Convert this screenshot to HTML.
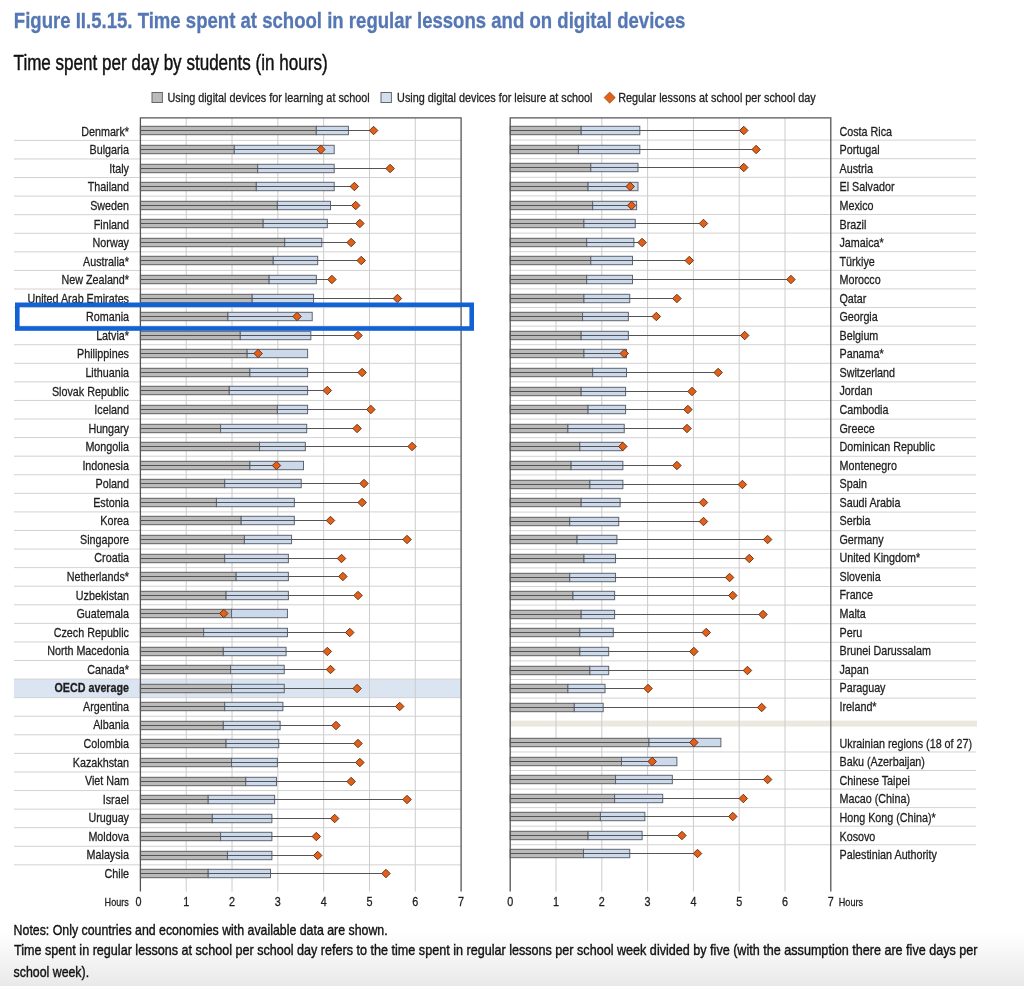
<!DOCTYPE html>
<html><head><meta charset="utf-8"><title>Figure II.5.15. Time spent at school in regular lessons and on digital devices</title>
<style>html,body{margin:0;padding:0;background:#fff;width:1024px;height:986px;overflow:hidden}</style>
</head><body>
<svg width="1024" height="986" viewBox="0 0 1024 986" style="display:block;will-change:transform;font-family:'Liberation Sans',Arial,sans-serif">
<rect width="1024" height="986" fill="#fff"/>
<defs><linearGradient id="bg" x1="0" y1="0" x2="0" y2="1"><stop offset="0" stop-color="#fff"/><stop offset="1" stop-color="#e9e9e9"/></linearGradient></defs>
<rect x="0" y="932" width="1024" height="54" fill="url(#bg)"/>
<text x="13.80" y="28.10" font-size="22.6" font-weight="bold" textLength="671.50" lengthAdjust="spacingAndGlyphs" fill="#5577b3" stroke="#5577b3" stroke-width="0.3">Figure II.5.15. Time spent at school in regular lessons and on digital devices</text>
<text x="13.60" y="70.20" font-size="21.4" textLength="314.00" lengthAdjust="spacingAndGlyphs" fill="#111" stroke="#111" stroke-width="0.45">Time spent per day by students (in hours)</text>
<rect x="152" y="92.5" width="10.4" height="10" fill="#bababa" stroke="#666" stroke-width="1"/>
<text x="167.50" y="102.30" font-size="13.0" textLength="202.20" lengthAdjust="spacingAndGlyphs" fill="#222" stroke="#222" stroke-width="0.3">Using digital devices for learning at school</text>
<rect x="381" y="92.5" width="10.4" height="10" fill="#d3deee" stroke="#666" stroke-width="1"/>
<text x="397.10" y="102.30" font-size="13.0" textLength="195.40" lengthAdjust="spacingAndGlyphs" fill="#222" stroke="#222" stroke-width="0.3">Using digital devices for leisure at school</text>
<polygon points="604.1,97.6 609.7,92.0 615.3000000000001,97.6 609.7,103.19999999999999" fill="#e2611b" stroke="#8a3a10" stroke-width="0.6"/>
<text x="618.20" y="102.30" font-size="13.0" textLength="197.60" lengthAdjust="spacingAndGlyphs" fill="#222" stroke="#222" stroke-width="0.3">Regular lessons at school per school day</text>
<rect x="14" y="679.09" width="447.10" height="18.58" fill="#dbe5f1"/>
<line x1="14" y1="140.39" x2="461.10" y2="140.39" stroke="#d2d2d2" stroke-width="1"/>
<line x1="14" y1="158.96" x2="461.10" y2="158.96" stroke="#d2d2d2" stroke-width="1"/>
<line x1="14" y1="177.54" x2="461.10" y2="177.54" stroke="#d2d2d2" stroke-width="1"/>
<line x1="14" y1="196.12" x2="461.10" y2="196.12" stroke="#d2d2d2" stroke-width="1"/>
<line x1="14" y1="214.69" x2="461.10" y2="214.69" stroke="#d2d2d2" stroke-width="1"/>
<line x1="14" y1="233.27" x2="461.10" y2="233.27" stroke="#d2d2d2" stroke-width="1"/>
<line x1="14" y1="251.84" x2="461.10" y2="251.84" stroke="#d2d2d2" stroke-width="1"/>
<line x1="14" y1="270.42" x2="461.10" y2="270.42" stroke="#d2d2d2" stroke-width="1"/>
<line x1="14" y1="289.00" x2="461.10" y2="289.00" stroke="#d2d2d2" stroke-width="1"/>
<line x1="14" y1="307.57" x2="461.10" y2="307.57" stroke="#d2d2d2" stroke-width="1"/>
<line x1="14" y1="326.15" x2="461.10" y2="326.15" stroke="#d2d2d2" stroke-width="1"/>
<line x1="14" y1="344.72" x2="461.10" y2="344.72" stroke="#d2d2d2" stroke-width="1"/>
<line x1="14" y1="363.30" x2="461.10" y2="363.30" stroke="#d2d2d2" stroke-width="1"/>
<line x1="14" y1="381.88" x2="461.10" y2="381.88" stroke="#d2d2d2" stroke-width="1"/>
<line x1="14" y1="400.45" x2="461.10" y2="400.45" stroke="#d2d2d2" stroke-width="1"/>
<line x1="14" y1="419.03" x2="461.10" y2="419.03" stroke="#d2d2d2" stroke-width="1"/>
<line x1="14" y1="437.60" x2="461.10" y2="437.60" stroke="#d2d2d2" stroke-width="1"/>
<line x1="14" y1="456.18" x2="461.10" y2="456.18" stroke="#d2d2d2" stroke-width="1"/>
<line x1="14" y1="474.76" x2="461.10" y2="474.76" stroke="#d2d2d2" stroke-width="1"/>
<line x1="14" y1="493.33" x2="461.10" y2="493.33" stroke="#d2d2d2" stroke-width="1"/>
<line x1="14" y1="511.91" x2="461.10" y2="511.91" stroke="#d2d2d2" stroke-width="1"/>
<line x1="14" y1="530.48" x2="461.10" y2="530.48" stroke="#d2d2d2" stroke-width="1"/>
<line x1="14" y1="549.06" x2="461.10" y2="549.06" stroke="#d2d2d2" stroke-width="1"/>
<line x1="14" y1="567.64" x2="461.10" y2="567.64" stroke="#d2d2d2" stroke-width="1"/>
<line x1="14" y1="586.21" x2="461.10" y2="586.21" stroke="#d2d2d2" stroke-width="1"/>
<line x1="14" y1="604.79" x2="461.10" y2="604.79" stroke="#d2d2d2" stroke-width="1"/>
<line x1="14" y1="623.36" x2="461.10" y2="623.36" stroke="#d2d2d2" stroke-width="1"/>
<line x1="14" y1="641.94" x2="461.10" y2="641.94" stroke="#d2d2d2" stroke-width="1"/>
<line x1="14" y1="660.52" x2="461.10" y2="660.52" stroke="#d2d2d2" stroke-width="1"/>
<line x1="14" y1="679.09" x2="461.10" y2="679.09" stroke="#d2d2d2" stroke-width="1"/>
<line x1="14" y1="697.67" x2="461.10" y2="697.67" stroke="#d2d2d2" stroke-width="1"/>
<line x1="14" y1="716.24" x2="461.10" y2="716.24" stroke="#d2d2d2" stroke-width="1"/>
<line x1="14" y1="734.82" x2="461.10" y2="734.82" stroke="#d2d2d2" stroke-width="1"/>
<line x1="14" y1="753.40" x2="461.10" y2="753.40" stroke="#d2d2d2" stroke-width="1"/>
<line x1="14" y1="771.97" x2="461.10" y2="771.97" stroke="#d2d2d2" stroke-width="1"/>
<line x1="14" y1="790.55" x2="461.10" y2="790.55" stroke="#d2d2d2" stroke-width="1"/>
<line x1="14" y1="809.12" x2="461.10" y2="809.12" stroke="#d2d2d2" stroke-width="1"/>
<line x1="14" y1="827.70" x2="461.10" y2="827.70" stroke="#d2d2d2" stroke-width="1"/>
<line x1="14" y1="846.28" x2="461.10" y2="846.28" stroke="#d2d2d2" stroke-width="1"/>
<line x1="14" y1="864.85" x2="461.10" y2="864.85" stroke="#d2d2d2" stroke-width="1"/>
<line x1="186.21" y1="117.90" x2="186.21" y2="891.60" stroke="#cccccc" stroke-width="1"/>
<line x1="232.03" y1="117.90" x2="232.03" y2="891.60" stroke="#cccccc" stroke-width="1"/>
<line x1="277.84" y1="117.90" x2="277.84" y2="891.60" stroke="#cccccc" stroke-width="1"/>
<line x1="323.66" y1="117.90" x2="323.66" y2="891.60" stroke="#cccccc" stroke-width="1"/>
<line x1="369.47" y1="117.90" x2="369.47" y2="891.60" stroke="#cccccc" stroke-width="1"/>
<line x1="415.29" y1="117.90" x2="415.29" y2="891.60" stroke="#cccccc" stroke-width="1"/>
<rect x="140.40" y="126.30" width="175.93" height="8.4" fill="#bababa" stroke="#5e5e5e" stroke-width="1"/>
<rect x="316.33" y="126.30" width="32.07" height="8.4" fill="#ccd9eb" stroke="#5e6470" stroke-width="1"/>
<line x1="140.40" y1="130.50" x2="373.59" y2="130.50" stroke="#545454" stroke-width="1"/>
<polygon points="369.34,130.50 373.59,126.25 377.84,130.50 373.59,134.75" fill="#e2601a" stroke="#5e2a0c" stroke-width="0.9"/>
<rect x="140.40" y="145.30" width="93.92" height="8.4" fill="#bababa" stroke="#5e5e5e" stroke-width="1"/>
<rect x="234.32" y="145.30" width="99.88" height="8.4" fill="#ccd9eb" stroke="#5e6470" stroke-width="1"/>
<line x1="140.40" y1="149.50" x2="320.91" y2="149.50" stroke="#545454" stroke-width="1"/>
<polygon points="316.66,149.50 320.91,145.25 325.16,149.50 320.91,153.75" fill="#e2601a" stroke="#5e2a0c" stroke-width="0.9"/>
<rect x="140.40" y="164.30" width="117.28" height="8.4" fill="#bababa" stroke="#5e5e5e" stroke-width="1"/>
<rect x="257.68" y="164.30" width="76.51" height="8.4" fill="#ccd9eb" stroke="#5e6470" stroke-width="1"/>
<line x1="140.40" y1="168.50" x2="390.09" y2="168.50" stroke="#545454" stroke-width="1"/>
<polygon points="385.84,168.50 390.09,164.25 394.34,168.50 390.09,172.75" fill="#e2601a" stroke="#5e2a0c" stroke-width="0.9"/>
<rect x="140.40" y="182.30" width="115.91" height="8.4" fill="#bababa" stroke="#5e5e5e" stroke-width="1"/>
<rect x="256.31" y="182.30" width="77.88" height="8.4" fill="#ccd9eb" stroke="#5e6470" stroke-width="1"/>
<line x1="140.40" y1="186.50" x2="354.35" y2="186.50" stroke="#545454" stroke-width="1"/>
<polygon points="350.10,186.50 354.35,182.25 358.60,186.50 354.35,190.75" fill="#e2601a" stroke="#5e2a0c" stroke-width="0.9"/>
<rect x="140.40" y="201.30" width="136.98" height="8.4" fill="#bababa" stroke="#5e5e5e" stroke-width="1"/>
<rect x="277.38" y="201.30" width="53.14" height="8.4" fill="#ccd9eb" stroke="#5e6470" stroke-width="1"/>
<line x1="140.40" y1="205.50" x2="355.73" y2="205.50" stroke="#545454" stroke-width="1"/>
<polygon points="351.48,205.50 355.73,201.25 359.98,205.50 355.73,209.75" fill="#e2601a" stroke="#5e2a0c" stroke-width="0.9"/>
<rect x="140.40" y="219.30" width="122.78" height="8.4" fill="#bababa" stroke="#5e5e5e" stroke-width="1"/>
<rect x="263.18" y="219.30" width="64.14" height="8.4" fill="#ccd9eb" stroke="#5e6470" stroke-width="1"/>
<line x1="140.40" y1="223.50" x2="359.85" y2="223.50" stroke="#545454" stroke-width="1"/>
<polygon points="355.60,223.50 359.85,219.25 364.10,223.50 359.85,227.75" fill="#e2601a" stroke="#5e2a0c" stroke-width="0.9"/>
<rect x="140.40" y="238.30" width="144.32" height="8.4" fill="#bababa" stroke="#5e5e5e" stroke-width="1"/>
<rect x="284.72" y="238.30" width="37.11" height="8.4" fill="#ccd9eb" stroke="#5e6470" stroke-width="1"/>
<line x1="140.40" y1="242.50" x2="351.15" y2="242.50" stroke="#545454" stroke-width="1"/>
<polygon points="346.90,242.50 351.15,238.25 355.40,242.50 351.15,246.75" fill="#e2601a" stroke="#5e2a0c" stroke-width="0.9"/>
<rect x="140.40" y="256.30" width="132.86" height="8.4" fill="#bababa" stroke="#5e5e5e" stroke-width="1"/>
<rect x="273.26" y="256.30" width="44.44" height="8.4" fill="#ccd9eb" stroke="#5e6470" stroke-width="1"/>
<line x1="140.40" y1="260.50" x2="361.22" y2="260.50" stroke="#545454" stroke-width="1"/>
<polygon points="356.97,260.50 361.22,256.25 365.47,260.50 361.22,264.75" fill="#e2601a" stroke="#5e2a0c" stroke-width="0.9"/>
<rect x="140.40" y="275.30" width="128.74" height="8.4" fill="#bababa" stroke="#5e5e5e" stroke-width="1"/>
<rect x="269.14" y="275.30" width="47.19" height="8.4" fill="#ccd9eb" stroke="#5e6470" stroke-width="1"/>
<line x1="140.40" y1="279.50" x2="331.90" y2="279.50" stroke="#545454" stroke-width="1"/>
<polygon points="327.65,279.50 331.90,275.25 336.15,279.50 331.90,283.75" fill="#e2601a" stroke="#5e2a0c" stroke-width="0.9"/>
<rect x="140.40" y="294.30" width="111.79" height="8.4" fill="#bababa" stroke="#5e5e5e" stroke-width="1"/>
<rect x="252.19" y="294.30" width="61.39" height="8.4" fill="#ccd9eb" stroke="#5e6470" stroke-width="1"/>
<line x1="140.40" y1="298.50" x2="397.42" y2="298.50" stroke="#545454" stroke-width="1"/>
<polygon points="393.17,298.50 397.42,294.25 401.67,298.50 397.42,302.75" fill="#e2601a" stroke="#5e2a0c" stroke-width="0.9"/>
<rect x="140.40" y="312.30" width="87.51" height="8.4" fill="#bababa" stroke="#5e5e5e" stroke-width="1"/>
<rect x="227.91" y="312.30" width="84.30" height="8.4" fill="#ccd9eb" stroke="#5e6470" stroke-width="1"/>
<line x1="140.40" y1="316.50" x2="297.08" y2="316.50" stroke="#545454" stroke-width="1"/>
<polygon points="292.83,316.50 297.08,312.25 301.33,316.50 297.08,320.75" fill="#e2601a" stroke="#5e2a0c" stroke-width="0.9"/>
<rect x="140.40" y="331.30" width="99.88" height="8.4" fill="#bababa" stroke="#5e5e5e" stroke-width="1"/>
<rect x="240.28" y="331.30" width="70.55" height="8.4" fill="#ccd9eb" stroke="#5e6470" stroke-width="1"/>
<line x1="140.40" y1="335.50" x2="358.02" y2="335.50" stroke="#545454" stroke-width="1"/>
<polygon points="353.77,335.50 358.02,331.25 362.27,335.50 358.02,339.75" fill="#e2601a" stroke="#5e2a0c" stroke-width="0.9"/>
<rect x="140.40" y="349.30" width="106.75" height="8.4" fill="#bababa" stroke="#5e5e5e" stroke-width="1"/>
<rect x="247.15" y="349.30" width="60.47" height="8.4" fill="#ccd9eb" stroke="#5e6470" stroke-width="1"/>
<line x1="140.40" y1="353.50" x2="258.14" y2="353.50" stroke="#545454" stroke-width="1"/>
<polygon points="253.89,353.50 258.14,349.25 262.39,353.50 258.14,357.75" fill="#e2601a" stroke="#5e2a0c" stroke-width="0.9"/>
<rect x="140.40" y="368.30" width="109.50" height="8.4" fill="#bababa" stroke="#5e5e5e" stroke-width="1"/>
<rect x="249.90" y="368.30" width="57.73" height="8.4" fill="#ccd9eb" stroke="#5e6470" stroke-width="1"/>
<line x1="140.40" y1="372.50" x2="362.14" y2="372.50" stroke="#545454" stroke-width="1"/>
<polygon points="357.89,372.50 362.14,368.25 366.39,372.50 362.14,376.75" fill="#e2601a" stroke="#5e2a0c" stroke-width="0.9"/>
<rect x="140.40" y="386.30" width="88.88" height="8.4" fill="#bababa" stroke="#5e5e5e" stroke-width="1"/>
<rect x="229.28" y="386.30" width="78.34" height="8.4" fill="#ccd9eb" stroke="#5e6470" stroke-width="1"/>
<line x1="140.40" y1="390.50" x2="327.32" y2="390.50" stroke="#545454" stroke-width="1"/>
<polygon points="323.07,390.50 327.32,386.25 331.57,390.50 327.32,394.75" fill="#e2601a" stroke="#5e2a0c" stroke-width="0.9"/>
<rect x="140.40" y="405.30" width="136.98" height="8.4" fill="#bababa" stroke="#5e5e5e" stroke-width="1"/>
<rect x="277.38" y="405.30" width="30.24" height="8.4" fill="#ccd9eb" stroke="#5e6470" stroke-width="1"/>
<line x1="140.40" y1="409.50" x2="370.85" y2="409.50" stroke="#545454" stroke-width="1"/>
<polygon points="366.60,409.50 370.85,405.25 375.10,409.50 370.85,413.75" fill="#e2601a" stroke="#5e2a0c" stroke-width="0.9"/>
<rect x="140.40" y="424.30" width="80.18" height="8.4" fill="#bababa" stroke="#5e5e5e" stroke-width="1"/>
<rect x="220.58" y="424.30" width="86.13" height="8.4" fill="#ccd9eb" stroke="#5e6470" stroke-width="1"/>
<line x1="140.40" y1="428.50" x2="357.10" y2="428.50" stroke="#545454" stroke-width="1"/>
<polygon points="352.85,428.50 357.10,424.25 361.35,428.50 357.10,432.75" fill="#e2601a" stroke="#5e2a0c" stroke-width="0.9"/>
<rect x="140.40" y="442.30" width="119.12" height="8.4" fill="#bababa" stroke="#5e5e5e" stroke-width="1"/>
<rect x="259.52" y="442.30" width="45.81" height="8.4" fill="#ccd9eb" stroke="#5e6470" stroke-width="1"/>
<line x1="140.40" y1="446.50" x2="412.08" y2="446.50" stroke="#545454" stroke-width="1"/>
<polygon points="407.83,446.50 412.08,442.25 416.33,446.50 412.08,450.75" fill="#e2601a" stroke="#5e2a0c" stroke-width="0.9"/>
<rect x="140.40" y="461.30" width="109.50" height="8.4" fill="#bababa" stroke="#5e5e5e" stroke-width="1"/>
<rect x="249.90" y="461.30" width="53.60" height="8.4" fill="#ccd9eb" stroke="#5e6470" stroke-width="1"/>
<line x1="140.40" y1="465.50" x2="276.47" y2="465.50" stroke="#545454" stroke-width="1"/>
<polygon points="272.22,465.50 276.47,461.25 280.72,465.50 276.47,469.75" fill="#e2601a" stroke="#5e2a0c" stroke-width="0.9"/>
<rect x="140.40" y="479.30" width="84.30" height="8.4" fill="#bababa" stroke="#5e5e5e" stroke-width="1"/>
<rect x="224.70" y="479.30" width="76.51" height="8.4" fill="#ccd9eb" stroke="#5e6470" stroke-width="1"/>
<line x1="140.40" y1="483.50" x2="363.97" y2="483.50" stroke="#545454" stroke-width="1"/>
<polygon points="359.72,483.50 363.97,479.25 368.22,483.50 363.97,487.75" fill="#e2601a" stroke="#5e2a0c" stroke-width="0.9"/>
<rect x="140.40" y="498.30" width="76.05" height="8.4" fill="#bababa" stroke="#5e5e5e" stroke-width="1"/>
<rect x="216.45" y="498.30" width="77.88" height="8.4" fill="#ccd9eb" stroke="#5e6470" stroke-width="1"/>
<line x1="140.40" y1="502.50" x2="362.14" y2="502.50" stroke="#545454" stroke-width="1"/>
<polygon points="357.89,502.50 362.14,498.25 366.39,502.50 362.14,506.75" fill="#e2601a" stroke="#5e2a0c" stroke-width="0.9"/>
<rect x="140.40" y="516.30" width="100.79" height="8.4" fill="#bababa" stroke="#5e5e5e" stroke-width="1"/>
<rect x="241.19" y="516.30" width="53.14" height="8.4" fill="#ccd9eb" stroke="#5e6470" stroke-width="1"/>
<line x1="140.40" y1="520.50" x2="330.53" y2="520.50" stroke="#545454" stroke-width="1"/>
<polygon points="326.28,520.50 330.53,516.25 334.78,520.50 330.53,524.75" fill="#e2601a" stroke="#5e2a0c" stroke-width="0.9"/>
<rect x="140.40" y="535.30" width="104.00" height="8.4" fill="#bababa" stroke="#5e5e5e" stroke-width="1"/>
<rect x="244.40" y="535.30" width="47.19" height="8.4" fill="#ccd9eb" stroke="#5e6470" stroke-width="1"/>
<line x1="140.40" y1="539.50" x2="407.04" y2="539.50" stroke="#545454" stroke-width="1"/>
<polygon points="402.79,539.50 407.04,535.25 411.29,539.50 407.04,543.75" fill="#e2601a" stroke="#5e2a0c" stroke-width="0.9"/>
<rect x="140.40" y="554.30" width="84.30" height="8.4" fill="#bababa" stroke="#5e5e5e" stroke-width="1"/>
<rect x="224.70" y="554.30" width="63.68" height="8.4" fill="#ccd9eb" stroke="#5e6470" stroke-width="1"/>
<line x1="140.40" y1="558.50" x2="341.52" y2="558.50" stroke="#545454" stroke-width="1"/>
<polygon points="337.27,558.50 341.52,554.25 345.77,558.50 341.52,562.75" fill="#e2601a" stroke="#5e2a0c" stroke-width="0.9"/>
<rect x="140.40" y="572.30" width="95.75" height="8.4" fill="#bababa" stroke="#5e5e5e" stroke-width="1"/>
<rect x="236.15" y="572.30" width="52.23" height="8.4" fill="#ccd9eb" stroke="#5e6470" stroke-width="1"/>
<line x1="140.40" y1="576.50" x2="342.90" y2="576.50" stroke="#545454" stroke-width="1"/>
<polygon points="338.65,576.50 342.90,572.25 347.15,576.50 342.90,580.75" fill="#e2601a" stroke="#5e2a0c" stroke-width="0.9"/>
<rect x="140.40" y="591.30" width="85.67" height="8.4" fill="#bababa" stroke="#5e5e5e" stroke-width="1"/>
<rect x="226.07" y="591.30" width="62.31" height="8.4" fill="#ccd9eb" stroke="#5e6470" stroke-width="1"/>
<line x1="140.40" y1="595.50" x2="358.02" y2="595.50" stroke="#545454" stroke-width="1"/>
<polygon points="353.77,595.50 358.02,591.25 362.27,595.50 358.02,599.75" fill="#e2601a" stroke="#5e2a0c" stroke-width="0.9"/>
<rect x="140.40" y="609.30" width="91.17" height="8.4" fill="#bababa" stroke="#5e5e5e" stroke-width="1"/>
<rect x="231.57" y="609.30" width="55.89" height="8.4" fill="#ccd9eb" stroke="#5e6470" stroke-width="1"/>
<line x1="140.40" y1="613.50" x2="223.78" y2="613.50" stroke="#545454" stroke-width="1"/>
<polygon points="219.53,613.50 223.78,609.25 228.03,613.50 223.78,617.75" fill="#e2601a" stroke="#5e2a0c" stroke-width="0.9"/>
<rect x="140.40" y="628.30" width="63.22" height="8.4" fill="#bababa" stroke="#5e5e5e" stroke-width="1"/>
<rect x="203.62" y="628.30" width="83.84" height="8.4" fill="#ccd9eb" stroke="#5e6470" stroke-width="1"/>
<line x1="140.40" y1="632.50" x2="349.77" y2="632.50" stroke="#545454" stroke-width="1"/>
<polygon points="345.52,632.50 349.77,628.25 354.02,632.50 349.77,636.75" fill="#e2601a" stroke="#5e2a0c" stroke-width="0.9"/>
<rect x="140.40" y="647.30" width="82.92" height="8.4" fill="#bababa" stroke="#5e5e5e" stroke-width="1"/>
<rect x="223.32" y="647.30" width="62.77" height="8.4" fill="#ccd9eb" stroke="#5e6470" stroke-width="1"/>
<line x1="140.40" y1="651.50" x2="327.32" y2="651.50" stroke="#545454" stroke-width="1"/>
<polygon points="323.07,651.50 327.32,647.25 331.57,651.50 327.32,655.75" fill="#e2601a" stroke="#5e2a0c" stroke-width="0.9"/>
<rect x="140.40" y="665.30" width="90.25" height="8.4" fill="#bababa" stroke="#5e5e5e" stroke-width="1"/>
<rect x="230.65" y="665.30" width="53.60" height="8.4" fill="#ccd9eb" stroke="#5e6470" stroke-width="1"/>
<line x1="140.40" y1="669.50" x2="330.53" y2="669.50" stroke="#545454" stroke-width="1"/>
<polygon points="326.28,669.50 330.53,665.25 334.78,669.50 330.53,673.75" fill="#e2601a" stroke="#5e2a0c" stroke-width="0.9"/>
<rect x="140.40" y="684.30" width="91.17" height="8.4" fill="#bababa" stroke="#5e5e5e" stroke-width="1"/>
<rect x="231.57" y="684.30" width="52.69" height="8.4" fill="#ccd9eb" stroke="#5e6470" stroke-width="1"/>
<line x1="140.40" y1="688.50" x2="357.10" y2="688.50" stroke="#545454" stroke-width="1"/>
<polygon points="352.85,688.50 357.10,684.25 361.35,688.50 357.10,692.75" fill="#e2601a" stroke="#5e2a0c" stroke-width="0.9"/>
<rect x="140.40" y="702.30" width="84.30" height="8.4" fill="#bababa" stroke="#5e5e5e" stroke-width="1"/>
<rect x="224.70" y="702.30" width="58.18" height="8.4" fill="#ccd9eb" stroke="#5e6470" stroke-width="1"/>
<line x1="140.40" y1="706.50" x2="399.71" y2="706.50" stroke="#545454" stroke-width="1"/>
<polygon points="395.46,706.50 399.71,702.25 403.96,706.50 399.71,710.75" fill="#e2601a" stroke="#5e2a0c" stroke-width="0.9"/>
<rect x="140.40" y="721.30" width="82.92" height="8.4" fill="#bababa" stroke="#5e5e5e" stroke-width="1"/>
<rect x="223.32" y="721.30" width="56.81" height="8.4" fill="#ccd9eb" stroke="#5e6470" stroke-width="1"/>
<line x1="140.40" y1="725.50" x2="336.03" y2="725.50" stroke="#545454" stroke-width="1"/>
<polygon points="331.78,725.50 336.03,721.25 340.28,725.50 336.03,729.75" fill="#e2601a" stroke="#5e2a0c" stroke-width="0.9"/>
<rect x="140.40" y="739.30" width="85.67" height="8.4" fill="#bababa" stroke="#5e5e5e" stroke-width="1"/>
<rect x="226.07" y="739.30" width="52.69" height="8.4" fill="#ccd9eb" stroke="#5e6470" stroke-width="1"/>
<line x1="140.40" y1="743.50" x2="358.02" y2="743.50" stroke="#545454" stroke-width="1"/>
<polygon points="353.77,743.50 358.02,739.25 362.27,743.50 358.02,747.75" fill="#e2601a" stroke="#5e2a0c" stroke-width="0.9"/>
<rect x="140.40" y="758.30" width="91.17" height="8.4" fill="#bababa" stroke="#5e5e5e" stroke-width="1"/>
<rect x="231.57" y="758.30" width="45.81" height="8.4" fill="#ccd9eb" stroke="#5e6470" stroke-width="1"/>
<line x1="140.40" y1="762.50" x2="359.85" y2="762.50" stroke="#545454" stroke-width="1"/>
<polygon points="355.60,762.50 359.85,758.25 364.10,762.50 359.85,766.75" fill="#e2601a" stroke="#5e2a0c" stroke-width="0.9"/>
<rect x="140.40" y="777.30" width="105.37" height="8.4" fill="#bababa" stroke="#5e5e5e" stroke-width="1"/>
<rect x="245.77" y="777.30" width="30.70" height="8.4" fill="#ccd9eb" stroke="#5e6470" stroke-width="1"/>
<line x1="140.40" y1="781.50" x2="351.15" y2="781.50" stroke="#545454" stroke-width="1"/>
<polygon points="346.90,781.50 351.15,777.25 355.40,781.50 351.15,785.75" fill="#e2601a" stroke="#5e2a0c" stroke-width="0.9"/>
<rect x="140.40" y="795.30" width="67.81" height="8.4" fill="#bababa" stroke="#5e5e5e" stroke-width="1"/>
<rect x="208.21" y="795.30" width="66.43" height="8.4" fill="#ccd9eb" stroke="#5e6470" stroke-width="1"/>
<line x1="140.40" y1="799.50" x2="407.04" y2="799.50" stroke="#545454" stroke-width="1"/>
<polygon points="402.79,799.50 407.04,795.25 411.29,799.50 407.04,803.75" fill="#e2601a" stroke="#5e2a0c" stroke-width="0.9"/>
<rect x="140.40" y="814.30" width="71.93" height="8.4" fill="#bababa" stroke="#5e5e5e" stroke-width="1"/>
<rect x="212.33" y="814.30" width="59.56" height="8.4" fill="#ccd9eb" stroke="#5e6470" stroke-width="1"/>
<line x1="140.40" y1="818.50" x2="334.65" y2="818.50" stroke="#545454" stroke-width="1"/>
<polygon points="330.40,818.50 334.65,814.25 338.90,818.50 334.65,822.75" fill="#e2601a" stroke="#5e2a0c" stroke-width="0.9"/>
<rect x="140.40" y="832.30" width="80.18" height="8.4" fill="#bababa" stroke="#5e5e5e" stroke-width="1"/>
<rect x="220.58" y="832.30" width="51.31" height="8.4" fill="#ccd9eb" stroke="#5e6470" stroke-width="1"/>
<line x1="140.40" y1="836.50" x2="316.33" y2="836.50" stroke="#545454" stroke-width="1"/>
<polygon points="312.08,836.50 316.33,832.25 320.58,836.50 316.33,840.75" fill="#e2601a" stroke="#5e2a0c" stroke-width="0.9"/>
<rect x="140.40" y="851.30" width="87.05" height="8.4" fill="#bababa" stroke="#5e5e5e" stroke-width="1"/>
<rect x="227.45" y="851.30" width="44.44" height="8.4" fill="#ccd9eb" stroke="#5e6470" stroke-width="1"/>
<line x1="140.40" y1="855.50" x2="317.70" y2="855.50" stroke="#545454" stroke-width="1"/>
<polygon points="313.45,855.50 317.70,851.25 321.95,855.50 317.70,859.75" fill="#e2601a" stroke="#5e2a0c" stroke-width="0.9"/>
<rect x="140.40" y="869.30" width="67.81" height="8.4" fill="#bababa" stroke="#5e5e5e" stroke-width="1"/>
<rect x="208.21" y="869.30" width="62.31" height="8.4" fill="#ccd9eb" stroke="#5e6470" stroke-width="1"/>
<line x1="140.40" y1="873.50" x2="385.96" y2="873.50" stroke="#545454" stroke-width="1"/>
<polygon points="381.71,873.50 385.96,869.25 390.21,873.50 385.96,877.75" fill="#e2601a" stroke="#5e2a0c" stroke-width="0.9"/>
<polyline points="140.40,891.60 140.40,117.90 461.10,117.90 461.10,891.60" fill="none" stroke="#555" stroke-width="1.3"/>
<text x="81.22" y="135.80" font-size="13.4" textLength="47.78" lengthAdjust="spacingAndGlyphs" fill="#1e1e1e" stroke="#1e1e1e" stroke-width="0.3">Denmark*</text>
<text x="89.57" y="154.35" font-size="13.4" textLength="39.43" lengthAdjust="spacingAndGlyphs" fill="#1e1e1e" stroke="#1e1e1e" stroke-width="0.3">Bulgaria</text>
<text x="109.29" y="172.90" font-size="13.4" textLength="19.71" lengthAdjust="spacingAndGlyphs" fill="#1e1e1e" stroke="#1e1e1e" stroke-width="0.3">Italy</text>
<text x="87.78" y="191.45" font-size="13.4" textLength="41.22" lengthAdjust="spacingAndGlyphs" fill="#1e1e1e" stroke="#1e1e1e" stroke-width="0.3">Thailand</text>
<text x="90.16" y="210.00" font-size="13.4" textLength="38.84" lengthAdjust="spacingAndGlyphs" fill="#1e1e1e" stroke="#1e1e1e" stroke-width="0.3">Sweden</text>
<text x="93.75" y="228.55" font-size="13.4" textLength="35.25" lengthAdjust="spacingAndGlyphs" fill="#1e1e1e" stroke="#1e1e1e" stroke-width="0.3">Finland</text>
<text x="92.57" y="247.10" font-size="13.4" textLength="36.43" lengthAdjust="spacingAndGlyphs" fill="#1e1e1e" stroke="#1e1e1e" stroke-width="0.3">Norway</text>
<text x="83.01" y="265.65" font-size="13.4" textLength="45.99" lengthAdjust="spacingAndGlyphs" fill="#1e1e1e" stroke="#1e1e1e" stroke-width="0.3">Australia*</text>
<text x="61.50" y="284.20" font-size="13.4" textLength="67.50" lengthAdjust="spacingAndGlyphs" fill="#1e1e1e" stroke="#1e1e1e" stroke-width="0.3">New Zealand*</text>
<text x="27.46" y="302.75" font-size="13.4" textLength="101.54" lengthAdjust="spacingAndGlyphs" fill="#1e1e1e" stroke="#1e1e1e" stroke-width="0.3">United Arab Emirates</text>
<text x="85.99" y="321.30" font-size="13.4" textLength="43.01" lengthAdjust="spacingAndGlyphs" fill="#1e1e1e" stroke="#1e1e1e" stroke-width="0.3">Romania</text>
<text x="96.14" y="339.85" font-size="13.4" textLength="32.86" lengthAdjust="spacingAndGlyphs" fill="#1e1e1e" stroke="#1e1e1e" stroke-width="0.3">Latvia*</text>
<text x="77.02" y="358.40" font-size="13.4" textLength="51.98" lengthAdjust="spacingAndGlyphs" fill="#1e1e1e" stroke="#1e1e1e" stroke-width="0.3">Philippines</text>
<text x="85.38" y="376.95" font-size="13.4" textLength="43.62" lengthAdjust="spacingAndGlyphs" fill="#1e1e1e" stroke="#1e1e1e" stroke-width="0.3">Lithuania</text>
<text x="51.94" y="395.50" font-size="13.4" textLength="77.06" lengthAdjust="spacingAndGlyphs" fill="#1e1e1e" stroke="#1e1e1e" stroke-width="0.3">Slovak Republic</text>
<text x="94.35" y="414.05" font-size="13.4" textLength="34.65" lengthAdjust="spacingAndGlyphs" fill="#1e1e1e" stroke="#1e1e1e" stroke-width="0.3">Iceland</text>
<text x="88.38" y="432.60" font-size="13.4" textLength="40.62" lengthAdjust="spacingAndGlyphs" fill="#1e1e1e" stroke="#1e1e1e" stroke-width="0.3">Hungary</text>
<text x="85.39" y="451.15" font-size="13.4" textLength="43.61" lengthAdjust="spacingAndGlyphs" fill="#1e1e1e" stroke="#1e1e1e" stroke-width="0.3">Mongolia</text>
<text x="82.39" y="469.70" font-size="13.4" textLength="46.61" lengthAdjust="spacingAndGlyphs" fill="#1e1e1e" stroke="#1e1e1e" stroke-width="0.3">Indonesia</text>
<text x="95.54" y="488.25" font-size="13.4" textLength="33.46" lengthAdjust="spacingAndGlyphs" fill="#1e1e1e" stroke="#1e1e1e" stroke-width="0.3">Poland</text>
<text x="93.15" y="506.80" font-size="13.4" textLength="35.85" lengthAdjust="spacingAndGlyphs" fill="#1e1e1e" stroke="#1e1e1e" stroke-width="0.3">Estonia</text>
<text x="100.32" y="525.35" font-size="13.4" textLength="28.68" lengthAdjust="spacingAndGlyphs" fill="#1e1e1e" stroke="#1e1e1e" stroke-width="0.3">Korea</text>
<text x="80.00" y="543.90" font-size="13.4" textLength="49.00" lengthAdjust="spacingAndGlyphs" fill="#1e1e1e" stroke="#1e1e1e" stroke-width="0.3">Singapore</text>
<text x="94.36" y="562.45" font-size="13.4" textLength="34.64" lengthAdjust="spacingAndGlyphs" fill="#1e1e1e" stroke="#1e1e1e" stroke-width="0.3">Croatia</text>
<text x="66.87" y="581.00" font-size="13.4" textLength="62.13" lengthAdjust="spacingAndGlyphs" fill="#1e1e1e" stroke="#1e1e1e" stroke-width="0.3">Netherlands*</text>
<text x="75.84" y="599.55" font-size="13.4" textLength="53.16" lengthAdjust="spacingAndGlyphs" fill="#1e1e1e" stroke="#1e1e1e" stroke-width="0.3">Uzbekistan</text>
<text x="76.43" y="618.10" font-size="13.4" textLength="52.57" lengthAdjust="spacingAndGlyphs" fill="#1e1e1e" stroke="#1e1e1e" stroke-width="0.3">Guatemala</text>
<text x="53.74" y="636.65" font-size="13.4" textLength="75.26" lengthAdjust="spacingAndGlyphs" fill="#1e1e1e" stroke="#1e1e1e" stroke-width="0.3">Czech Republic</text>
<text x="47.16" y="655.20" font-size="13.4" textLength="81.84" lengthAdjust="spacingAndGlyphs" fill="#1e1e1e" stroke="#1e1e1e" stroke-width="0.3">North Macedonia</text>
<text x="87.17" y="673.75" font-size="13.4" textLength="41.83" lengthAdjust="spacingAndGlyphs" fill="#1e1e1e" stroke="#1e1e1e" stroke-width="0.3">Canada*</text>
<text x="54.52" y="692.30" font-size="13.4" font-weight="bold" textLength="74.48" lengthAdjust="spacingAndGlyphs" fill="#1e1e1e" stroke="#1e1e1e" stroke-width="0.3">OECD average</text>
<text x="83.00" y="710.85" font-size="13.4" textLength="46.00" lengthAdjust="spacingAndGlyphs" fill="#1e1e1e" stroke="#1e1e1e" stroke-width="0.3">Argentina</text>
<text x="93.15" y="729.40" font-size="13.4" textLength="35.85" lengthAdjust="spacingAndGlyphs" fill="#1e1e1e" stroke="#1e1e1e" stroke-width="0.3">Albania</text>
<text x="83.60" y="747.95" font-size="13.4" textLength="45.40" lengthAdjust="spacingAndGlyphs" fill="#1e1e1e" stroke="#1e1e1e" stroke-width="0.3">Colombia</text>
<text x="72.84" y="766.50" font-size="13.4" textLength="56.16" lengthAdjust="spacingAndGlyphs" fill="#1e1e1e" stroke="#1e1e1e" stroke-width="0.3">Kazakhstan</text>
<text x="85.00" y="785.05" font-size="13.4" textLength="44.00" lengthAdjust="spacingAndGlyphs" fill="#1e1e1e" stroke="#1e1e1e" stroke-width="0.3">Viet Nam</text>
<text x="102.72" y="803.60" font-size="13.4" textLength="26.28" lengthAdjust="spacingAndGlyphs" fill="#1e1e1e" stroke="#1e1e1e" stroke-width="0.3">Israel</text>
<text x="88.38" y="822.15" font-size="13.4" textLength="40.62" lengthAdjust="spacingAndGlyphs" fill="#1e1e1e" stroke="#1e1e1e" stroke-width="0.3">Uruguay</text>
<text x="88.38" y="840.70" font-size="13.4" textLength="40.62" lengthAdjust="spacingAndGlyphs" fill="#1e1e1e" stroke="#1e1e1e" stroke-width="0.3">Moldova</text>
<text x="86.59" y="859.25" font-size="13.4" textLength="42.41" lengthAdjust="spacingAndGlyphs" fill="#1e1e1e" stroke="#1e1e1e" stroke-width="0.3">Malaysia</text>
<text x="104.51" y="877.80" font-size="13.4" textLength="24.49" lengthAdjust="spacingAndGlyphs" fill="#1e1e1e" stroke="#1e1e1e" stroke-width="0.3">Chile</text>
<text x="135.59" y="905.80" font-size="13.2" textLength="6.02" lengthAdjust="spacingAndGlyphs" fill="#1e1e1e" stroke="#1e1e1e" stroke-width="0.3">0</text>
<text x="183.20" y="905.80" font-size="13.2" textLength="6.02" lengthAdjust="spacingAndGlyphs" fill="#1e1e1e" stroke="#1e1e1e" stroke-width="0.3">1</text>
<text x="229.02" y="905.80" font-size="13.2" textLength="6.02" lengthAdjust="spacingAndGlyphs" fill="#1e1e1e" stroke="#1e1e1e" stroke-width="0.3">2</text>
<text x="274.83" y="905.80" font-size="13.2" textLength="6.02" lengthAdjust="spacingAndGlyphs" fill="#1e1e1e" stroke="#1e1e1e" stroke-width="0.3">3</text>
<text x="320.65" y="905.80" font-size="13.2" textLength="6.02" lengthAdjust="spacingAndGlyphs" fill="#1e1e1e" stroke="#1e1e1e" stroke-width="0.3">4</text>
<text x="366.46" y="905.80" font-size="13.2" textLength="6.02" lengthAdjust="spacingAndGlyphs" fill="#1e1e1e" stroke="#1e1e1e" stroke-width="0.3">5</text>
<text x="412.28" y="905.80" font-size="13.2" textLength="6.02" lengthAdjust="spacingAndGlyphs" fill="#1e1e1e" stroke="#1e1e1e" stroke-width="0.3">6</text>
<text x="458.09" y="905.80" font-size="13.2" textLength="6.02" lengthAdjust="spacingAndGlyphs" fill="#1e1e1e" stroke="#1e1e1e" stroke-width="0.3">7</text>
<rect x="510.20" y="720.60" width="320.60" height="6" fill="#ebe8e0"/>
<rect x="830.80" y="720.60" width="146.20" height="6" fill="#ebe8e0"/>
<line x1="510.20" y1="140.10" x2="976" y2="140.10" stroke="#d2d2d2" stroke-width="1"/>
<line x1="510.20" y1="158.70" x2="976" y2="158.70" stroke="#d2d2d2" stroke-width="1"/>
<line x1="510.20" y1="177.30" x2="976" y2="177.30" stroke="#d2d2d2" stroke-width="1"/>
<line x1="510.20" y1="195.90" x2="976" y2="195.90" stroke="#d2d2d2" stroke-width="1"/>
<line x1="510.20" y1="214.50" x2="976" y2="214.50" stroke="#d2d2d2" stroke-width="1"/>
<line x1="510.20" y1="233.10" x2="976" y2="233.10" stroke="#d2d2d2" stroke-width="1"/>
<line x1="510.20" y1="251.70" x2="976" y2="251.70" stroke="#d2d2d2" stroke-width="1"/>
<line x1="510.20" y1="270.30" x2="976" y2="270.30" stroke="#d2d2d2" stroke-width="1"/>
<line x1="510.20" y1="288.90" x2="976" y2="288.90" stroke="#d2d2d2" stroke-width="1"/>
<line x1="510.20" y1="307.50" x2="976" y2="307.50" stroke="#d2d2d2" stroke-width="1"/>
<line x1="510.20" y1="326.10" x2="976" y2="326.10" stroke="#d2d2d2" stroke-width="1"/>
<line x1="510.20" y1="344.70" x2="976" y2="344.70" stroke="#d2d2d2" stroke-width="1"/>
<line x1="510.20" y1="363.30" x2="976" y2="363.30" stroke="#d2d2d2" stroke-width="1"/>
<line x1="510.20" y1="381.90" x2="976" y2="381.90" stroke="#d2d2d2" stroke-width="1"/>
<line x1="510.20" y1="400.50" x2="976" y2="400.50" stroke="#d2d2d2" stroke-width="1"/>
<line x1="510.20" y1="419.10" x2="976" y2="419.10" stroke="#d2d2d2" stroke-width="1"/>
<line x1="510.20" y1="437.70" x2="976" y2="437.70" stroke="#d2d2d2" stroke-width="1"/>
<line x1="510.20" y1="456.30" x2="976" y2="456.30" stroke="#d2d2d2" stroke-width="1"/>
<line x1="510.20" y1="474.90" x2="976" y2="474.90" stroke="#d2d2d2" stroke-width="1"/>
<line x1="510.20" y1="493.50" x2="976" y2="493.50" stroke="#d2d2d2" stroke-width="1"/>
<line x1="510.20" y1="512.10" x2="976" y2="512.10" stroke="#d2d2d2" stroke-width="1"/>
<line x1="510.20" y1="530.70" x2="976" y2="530.70" stroke="#d2d2d2" stroke-width="1"/>
<line x1="510.20" y1="549.30" x2="976" y2="549.30" stroke="#d2d2d2" stroke-width="1"/>
<line x1="510.20" y1="567.90" x2="976" y2="567.90" stroke="#d2d2d2" stroke-width="1"/>
<line x1="510.20" y1="586.50" x2="976" y2="586.50" stroke="#d2d2d2" stroke-width="1"/>
<line x1="510.20" y1="605.10" x2="976" y2="605.10" stroke="#d2d2d2" stroke-width="1"/>
<line x1="510.20" y1="623.70" x2="976" y2="623.70" stroke="#d2d2d2" stroke-width="1"/>
<line x1="510.20" y1="642.30" x2="976" y2="642.30" stroke="#d2d2d2" stroke-width="1"/>
<line x1="510.20" y1="660.90" x2="976" y2="660.90" stroke="#d2d2d2" stroke-width="1"/>
<line x1="510.20" y1="679.50" x2="976" y2="679.50" stroke="#d2d2d2" stroke-width="1"/>
<line x1="510.20" y1="698.10" x2="976" y2="698.10" stroke="#d2d2d2" stroke-width="1"/>
<line x1="510.20" y1="751.98" x2="976" y2="751.98" stroke="#d2d2d2" stroke-width="1"/>
<line x1="510.20" y1="770.53" x2="976" y2="770.53" stroke="#d2d2d2" stroke-width="1"/>
<line x1="510.20" y1="789.08" x2="976" y2="789.08" stroke="#d2d2d2" stroke-width="1"/>
<line x1="510.20" y1="807.62" x2="976" y2="807.62" stroke="#d2d2d2" stroke-width="1"/>
<line x1="510.20" y1="826.18" x2="976" y2="826.18" stroke="#d2d2d2" stroke-width="1"/>
<line x1="510.20" y1="844.73" x2="976" y2="844.73" stroke="#d2d2d2" stroke-width="1"/>
<line x1="556.00" y1="117.90" x2="556.00" y2="891.60" stroke="#cccccc" stroke-width="1"/>
<line x1="601.80" y1="117.90" x2="601.80" y2="891.60" stroke="#cccccc" stroke-width="1"/>
<line x1="647.60" y1="117.90" x2="647.60" y2="891.60" stroke="#cccccc" stroke-width="1"/>
<line x1="693.40" y1="117.90" x2="693.40" y2="891.60" stroke="#cccccc" stroke-width="1"/>
<line x1="739.20" y1="117.90" x2="739.20" y2="891.60" stroke="#cccccc" stroke-width="1"/>
<line x1="785.00" y1="117.90" x2="785.00" y2="891.60" stroke="#cccccc" stroke-width="1"/>
<rect x="510.20" y="126.30" width="70.99" height="8.4" fill="#bababa" stroke="#5e5e5e" stroke-width="1"/>
<rect x="581.19" y="126.30" width="58.62" height="8.4" fill="#ccd9eb" stroke="#5e6470" stroke-width="1"/>
<line x1="510.20" y1="130.50" x2="743.78" y2="130.50" stroke="#545454" stroke-width="1"/>
<polygon points="739.53,130.50 743.78,126.25 748.03,130.50 743.78,134.75" fill="#e2601a" stroke="#5e2a0c" stroke-width="0.9"/>
<rect x="510.20" y="145.30" width="68.24" height="8.4" fill="#bababa" stroke="#5e5e5e" stroke-width="1"/>
<rect x="578.44" y="145.30" width="61.37" height="8.4" fill="#ccd9eb" stroke="#5e6470" stroke-width="1"/>
<line x1="510.20" y1="149.50" x2="756.15" y2="149.50" stroke="#545454" stroke-width="1"/>
<polygon points="751.90,149.50 756.15,145.25 760.40,149.50 756.15,153.75" fill="#e2601a" stroke="#5e2a0c" stroke-width="0.9"/>
<rect x="510.20" y="163.30" width="80.61" height="8.4" fill="#bababa" stroke="#5e5e5e" stroke-width="1"/>
<rect x="590.81" y="163.30" width="47.17" height="8.4" fill="#ccd9eb" stroke="#5e6470" stroke-width="1"/>
<line x1="510.20" y1="167.50" x2="743.78" y2="167.50" stroke="#545454" stroke-width="1"/>
<polygon points="739.53,167.50 743.78,163.25 748.03,167.50 743.78,171.75" fill="#e2601a" stroke="#5e2a0c" stroke-width="0.9"/>
<rect x="510.20" y="182.30" width="77.86" height="8.4" fill="#bababa" stroke="#5e5e5e" stroke-width="1"/>
<rect x="588.06" y="182.30" width="49.92" height="8.4" fill="#ccd9eb" stroke="#5e6470" stroke-width="1"/>
<line x1="510.20" y1="186.50" x2="630.20" y2="186.50" stroke="#545454" stroke-width="1"/>
<polygon points="625.95,186.50 630.20,182.25 634.45,186.50 630.20,190.75" fill="#e2601a" stroke="#5e2a0c" stroke-width="0.9"/>
<rect x="510.20" y="201.30" width="82.44" height="8.4" fill="#bababa" stroke="#5e5e5e" stroke-width="1"/>
<rect x="592.64" y="201.30" width="43.97" height="8.4" fill="#ccd9eb" stroke="#5e6470" stroke-width="1"/>
<line x1="510.20" y1="205.50" x2="631.57" y2="205.50" stroke="#545454" stroke-width="1"/>
<polygon points="627.32,205.50 631.57,201.25 635.82,205.50 631.57,209.75" fill="#e2601a" stroke="#5e2a0c" stroke-width="0.9"/>
<rect x="510.20" y="219.30" width="73.74" height="8.4" fill="#bababa" stroke="#5e5e5e" stroke-width="1"/>
<rect x="583.94" y="219.30" width="51.30" height="8.4" fill="#ccd9eb" stroke="#5e6470" stroke-width="1"/>
<line x1="510.20" y1="223.50" x2="703.48" y2="223.50" stroke="#545454" stroke-width="1"/>
<polygon points="699.23,223.50 703.48,219.25 707.73,223.50 703.48,227.75" fill="#e2601a" stroke="#5e2a0c" stroke-width="0.9"/>
<rect x="510.20" y="238.30" width="76.49" height="8.4" fill="#bababa" stroke="#5e5e5e" stroke-width="1"/>
<rect x="586.69" y="238.30" width="47.17" height="8.4" fill="#ccd9eb" stroke="#5e6470" stroke-width="1"/>
<line x1="510.20" y1="242.50" x2="642.10" y2="242.50" stroke="#545454" stroke-width="1"/>
<polygon points="637.85,242.50 642.10,238.25 646.35,242.50 642.10,246.75" fill="#e2601a" stroke="#5e2a0c" stroke-width="0.9"/>
<rect x="510.20" y="256.30" width="80.61" height="8.4" fill="#bababa" stroke="#5e5e5e" stroke-width="1"/>
<rect x="590.81" y="256.30" width="41.68" height="8.4" fill="#ccd9eb" stroke="#5e6470" stroke-width="1"/>
<line x1="510.20" y1="260.50" x2="689.28" y2="260.50" stroke="#545454" stroke-width="1"/>
<polygon points="685.03,260.50 689.28,256.25 693.53,260.50 689.28,264.75" fill="#e2601a" stroke="#5e2a0c" stroke-width="0.9"/>
<rect x="510.20" y="275.30" width="76.49" height="8.4" fill="#bababa" stroke="#5e5e5e" stroke-width="1"/>
<rect x="586.69" y="275.30" width="45.80" height="8.4" fill="#ccd9eb" stroke="#5e6470" stroke-width="1"/>
<line x1="510.20" y1="279.50" x2="790.95" y2="279.50" stroke="#545454" stroke-width="1"/>
<polygon points="786.70,279.50 790.95,275.25 795.20,279.50 790.95,283.75" fill="#e2601a" stroke="#5e2a0c" stroke-width="0.9"/>
<rect x="510.20" y="294.30" width="73.74" height="8.4" fill="#bababa" stroke="#5e5e5e" stroke-width="1"/>
<rect x="583.94" y="294.30" width="45.80" height="8.4" fill="#ccd9eb" stroke="#5e6470" stroke-width="1"/>
<line x1="510.20" y1="298.50" x2="676.91" y2="298.50" stroke="#545454" stroke-width="1"/>
<polygon points="672.66,298.50 676.91,294.25 681.16,298.50 676.91,302.75" fill="#e2601a" stroke="#5e2a0c" stroke-width="0.9"/>
<rect x="510.20" y="312.30" width="72.36" height="8.4" fill="#bababa" stroke="#5e5e5e" stroke-width="1"/>
<rect x="582.56" y="312.30" width="45.80" height="8.4" fill="#ccd9eb" stroke="#5e6470" stroke-width="1"/>
<line x1="510.20" y1="316.50" x2="656.30" y2="316.50" stroke="#545454" stroke-width="1"/>
<polygon points="652.05,316.50 656.30,312.25 660.55,316.50 656.30,320.75" fill="#e2601a" stroke="#5e2a0c" stroke-width="0.9"/>
<rect x="510.20" y="331.30" width="70.99" height="8.4" fill="#bababa" stroke="#5e5e5e" stroke-width="1"/>
<rect x="581.19" y="331.30" width="47.17" height="8.4" fill="#ccd9eb" stroke="#5e6470" stroke-width="1"/>
<line x1="510.20" y1="335.50" x2="744.70" y2="335.50" stroke="#545454" stroke-width="1"/>
<polygon points="740.45,335.50 744.70,331.25 748.95,335.50 744.70,339.75" fill="#e2601a" stroke="#5e2a0c" stroke-width="0.9"/>
<rect x="510.20" y="349.30" width="73.74" height="8.4" fill="#bababa" stroke="#5e5e5e" stroke-width="1"/>
<rect x="583.94" y="349.30" width="42.59" height="8.4" fill="#ccd9eb" stroke="#5e6470" stroke-width="1"/>
<line x1="510.20" y1="353.50" x2="624.24" y2="353.50" stroke="#545454" stroke-width="1"/>
<polygon points="619.99,353.50 624.24,349.25 628.49,353.50 624.24,357.75" fill="#e2601a" stroke="#5e2a0c" stroke-width="0.9"/>
<rect x="510.20" y="368.30" width="82.44" height="8.4" fill="#bababa" stroke="#5e5e5e" stroke-width="1"/>
<rect x="592.64" y="368.30" width="33.89" height="8.4" fill="#ccd9eb" stroke="#5e6470" stroke-width="1"/>
<line x1="510.20" y1="372.50" x2="718.13" y2="372.50" stroke="#545454" stroke-width="1"/>
<polygon points="713.88,372.50 718.13,368.25 722.38,372.50 718.13,376.75" fill="#e2601a" stroke="#5e2a0c" stroke-width="0.9"/>
<rect x="510.20" y="387.30" width="70.99" height="8.4" fill="#bababa" stroke="#5e5e5e" stroke-width="1"/>
<rect x="581.19" y="387.30" width="44.43" height="8.4" fill="#ccd9eb" stroke="#5e6470" stroke-width="1"/>
<line x1="510.20" y1="391.50" x2="692.03" y2="391.50" stroke="#545454" stroke-width="1"/>
<polygon points="687.78,391.50 692.03,387.25 696.28,391.50 692.03,395.75" fill="#e2601a" stroke="#5e2a0c" stroke-width="0.9"/>
<rect x="510.20" y="405.30" width="77.86" height="8.4" fill="#bababa" stroke="#5e5e5e" stroke-width="1"/>
<rect x="588.06" y="405.30" width="37.56" height="8.4" fill="#ccd9eb" stroke="#5e6470" stroke-width="1"/>
<line x1="510.20" y1="409.50" x2="687.90" y2="409.50" stroke="#545454" stroke-width="1"/>
<polygon points="683.65,409.50 687.90,405.25 692.15,409.50 687.90,413.75" fill="#e2601a" stroke="#5e2a0c" stroke-width="0.9"/>
<rect x="510.20" y="424.30" width="57.71" height="8.4" fill="#bababa" stroke="#5e5e5e" stroke-width="1"/>
<rect x="567.91" y="424.30" width="56.33" height="8.4" fill="#ccd9eb" stroke="#5e6470" stroke-width="1"/>
<line x1="510.20" y1="428.50" x2="686.99" y2="428.50" stroke="#545454" stroke-width="1"/>
<polygon points="682.74,428.50 686.99,424.25 691.24,428.50 686.99,432.75" fill="#e2601a" stroke="#5e2a0c" stroke-width="0.9"/>
<rect x="510.20" y="442.30" width="69.62" height="8.4" fill="#bababa" stroke="#5e5e5e" stroke-width="1"/>
<rect x="579.82" y="442.30" width="43.05" height="8.4" fill="#ccd9eb" stroke="#5e6470" stroke-width="1"/>
<line x1="510.20" y1="446.50" x2="622.87" y2="446.50" stroke="#545454" stroke-width="1"/>
<polygon points="618.62,446.50 622.87,442.25 627.12,446.50 622.87,450.75" fill="#e2601a" stroke="#5e2a0c" stroke-width="0.9"/>
<rect x="510.20" y="461.30" width="60.91" height="8.4" fill="#bababa" stroke="#5e5e5e" stroke-width="1"/>
<rect x="571.11" y="461.30" width="51.75" height="8.4" fill="#ccd9eb" stroke="#5e6470" stroke-width="1"/>
<line x1="510.20" y1="465.50" x2="676.91" y2="465.50" stroke="#545454" stroke-width="1"/>
<polygon points="672.66,465.50 676.91,461.25 681.16,465.50 676.91,469.75" fill="#e2601a" stroke="#5e2a0c" stroke-width="0.9"/>
<rect x="510.20" y="480.30" width="79.69" height="8.4" fill="#bababa" stroke="#5e5e5e" stroke-width="1"/>
<rect x="589.89" y="480.30" width="32.98" height="8.4" fill="#ccd9eb" stroke="#5e6470" stroke-width="1"/>
<line x1="510.20" y1="484.50" x2="742.41" y2="484.50" stroke="#545454" stroke-width="1"/>
<polygon points="738.16,484.50 742.41,480.25 746.66,484.50 742.41,488.75" fill="#e2601a" stroke="#5e2a0c" stroke-width="0.9"/>
<rect x="510.20" y="498.30" width="70.99" height="8.4" fill="#bababa" stroke="#5e5e5e" stroke-width="1"/>
<rect x="581.19" y="498.30" width="38.93" height="8.4" fill="#ccd9eb" stroke="#5e6470" stroke-width="1"/>
<line x1="510.20" y1="502.50" x2="703.48" y2="502.50" stroke="#545454" stroke-width="1"/>
<polygon points="699.23,502.50 703.48,498.25 707.73,502.50 703.48,506.75" fill="#e2601a" stroke="#5e2a0c" stroke-width="0.9"/>
<rect x="510.20" y="517.30" width="59.54" height="8.4" fill="#bababa" stroke="#5e5e5e" stroke-width="1"/>
<rect x="569.74" y="517.30" width="49.01" height="8.4" fill="#ccd9eb" stroke="#5e6470" stroke-width="1"/>
<line x1="510.20" y1="521.50" x2="703.48" y2="521.50" stroke="#545454" stroke-width="1"/>
<polygon points="699.23,521.50 703.48,517.25 707.73,521.50 703.48,525.75" fill="#e2601a" stroke="#5e2a0c" stroke-width="0.9"/>
<rect x="510.20" y="535.30" width="66.87" height="8.4" fill="#bababa" stroke="#5e5e5e" stroke-width="1"/>
<rect x="577.07" y="535.30" width="39.85" height="8.4" fill="#ccd9eb" stroke="#5e6470" stroke-width="1"/>
<line x1="510.20" y1="539.50" x2="767.60" y2="539.50" stroke="#545454" stroke-width="1"/>
<polygon points="763.35,539.50 767.60,535.25 771.85,539.50 767.60,543.75" fill="#e2601a" stroke="#5e2a0c" stroke-width="0.9"/>
<rect x="510.20" y="554.30" width="73.74" height="8.4" fill="#bababa" stroke="#5e5e5e" stroke-width="1"/>
<rect x="583.94" y="554.30" width="31.60" height="8.4" fill="#ccd9eb" stroke="#5e6470" stroke-width="1"/>
<line x1="510.20" y1="558.50" x2="749.28" y2="558.50" stroke="#545454" stroke-width="1"/>
<polygon points="745.03,558.50 749.28,554.25 753.53,558.50 749.28,562.75" fill="#e2601a" stroke="#5e2a0c" stroke-width="0.9"/>
<rect x="510.20" y="573.30" width="59.54" height="8.4" fill="#bababa" stroke="#5e5e5e" stroke-width="1"/>
<rect x="569.74" y="573.30" width="45.80" height="8.4" fill="#ccd9eb" stroke="#5e6470" stroke-width="1"/>
<line x1="510.20" y1="577.50" x2="729.58" y2="577.50" stroke="#545454" stroke-width="1"/>
<polygon points="725.33,577.50 729.58,573.25 733.83,577.50 729.58,581.75" fill="#e2601a" stroke="#5e2a0c" stroke-width="0.9"/>
<rect x="510.20" y="591.30" width="62.75" height="8.4" fill="#bababa" stroke="#5e5e5e" stroke-width="1"/>
<rect x="572.95" y="591.30" width="41.68" height="8.4" fill="#ccd9eb" stroke="#5e6470" stroke-width="1"/>
<line x1="510.20" y1="595.50" x2="732.79" y2="595.50" stroke="#545454" stroke-width="1"/>
<polygon points="728.54,595.50 732.79,591.25 737.04,595.50 732.79,599.75" fill="#e2601a" stroke="#5e2a0c" stroke-width="0.9"/>
<rect x="510.20" y="610.30" width="70.99" height="8.4" fill="#bababa" stroke="#5e5e5e" stroke-width="1"/>
<rect x="581.19" y="610.30" width="33.43" height="8.4" fill="#ccd9eb" stroke="#5e6470" stroke-width="1"/>
<line x1="510.20" y1="614.50" x2="763.02" y2="614.50" stroke="#545454" stroke-width="1"/>
<polygon points="758.77,614.50 763.02,610.25 767.27,614.50 763.02,618.75" fill="#e2601a" stroke="#5e2a0c" stroke-width="0.9"/>
<rect x="510.20" y="628.30" width="69.62" height="8.4" fill="#bababa" stroke="#5e5e5e" stroke-width="1"/>
<rect x="579.82" y="628.30" width="33.43" height="8.4" fill="#ccd9eb" stroke="#5e6470" stroke-width="1"/>
<line x1="510.20" y1="632.50" x2="706.22" y2="632.50" stroke="#545454" stroke-width="1"/>
<polygon points="701.97,632.50 706.22,628.25 710.47,632.50 706.22,636.75" fill="#e2601a" stroke="#5e2a0c" stroke-width="0.9"/>
<rect x="510.20" y="647.30" width="69.62" height="8.4" fill="#bababa" stroke="#5e5e5e" stroke-width="1"/>
<rect x="579.82" y="647.30" width="28.85" height="8.4" fill="#ccd9eb" stroke="#5e6470" stroke-width="1"/>
<line x1="510.20" y1="651.50" x2="693.86" y2="651.50" stroke="#545454" stroke-width="1"/>
<polygon points="689.61,651.50 693.86,647.25 698.11,651.50 693.86,655.75" fill="#e2601a" stroke="#5e2a0c" stroke-width="0.9"/>
<rect x="510.20" y="666.30" width="79.69" height="8.4" fill="#bababa" stroke="#5e5e5e" stroke-width="1"/>
<rect x="589.89" y="666.30" width="18.78" height="8.4" fill="#ccd9eb" stroke="#5e6470" stroke-width="1"/>
<line x1="510.20" y1="670.50" x2="747.44" y2="670.50" stroke="#545454" stroke-width="1"/>
<polygon points="743.19,670.50 747.44,666.25 751.69,670.50 747.44,674.75" fill="#e2601a" stroke="#5e2a0c" stroke-width="0.9"/>
<rect x="510.20" y="684.30" width="57.71" height="8.4" fill="#bababa" stroke="#5e5e5e" stroke-width="1"/>
<rect x="567.91" y="684.30" width="37.10" height="8.4" fill="#ccd9eb" stroke="#5e6470" stroke-width="1"/>
<line x1="510.20" y1="688.50" x2="648.06" y2="688.50" stroke="#545454" stroke-width="1"/>
<polygon points="643.81,688.50 648.06,684.25 652.31,688.50 648.06,692.75" fill="#e2601a" stroke="#5e2a0c" stroke-width="0.9"/>
<rect x="510.20" y="703.30" width="64.12" height="8.4" fill="#bababa" stroke="#5e5e5e" stroke-width="1"/>
<rect x="574.32" y="703.30" width="28.85" height="8.4" fill="#ccd9eb" stroke="#5e6470" stroke-width="1"/>
<line x1="510.20" y1="707.50" x2="761.64" y2="707.50" stroke="#545454" stroke-width="1"/>
<polygon points="757.39,707.50 761.64,703.25 765.89,707.50 761.64,711.75" fill="#e2601a" stroke="#5e2a0c" stroke-width="0.9"/>
<rect x="510.20" y="738.30" width="138.77" height="8.4" fill="#bababa" stroke="#5e5e5e" stroke-width="1"/>
<rect x="648.97" y="738.30" width="71.91" height="8.4" fill="#ccd9eb" stroke="#5e6470" stroke-width="1"/>
<line x1="510.20" y1="742.50" x2="693.86" y2="742.50" stroke="#545454" stroke-width="1"/>
<polygon points="689.61,742.50 693.86,738.25 698.11,742.50 693.86,746.75" fill="#e2601a" stroke="#5e2a0c" stroke-width="0.9"/>
<rect x="510.20" y="757.30" width="111.29" height="8.4" fill="#bababa" stroke="#5e5e5e" stroke-width="1"/>
<rect x="621.49" y="757.30" width="55.42" height="8.4" fill="#ccd9eb" stroke="#5e6470" stroke-width="1"/>
<line x1="510.20" y1="761.50" x2="652.18" y2="761.50" stroke="#545454" stroke-width="1"/>
<polygon points="647.93,761.50 652.18,757.25 656.43,761.50 652.18,765.75" fill="#e2601a" stroke="#5e2a0c" stroke-width="0.9"/>
<rect x="510.20" y="775.30" width="105.34" height="8.4" fill="#bababa" stroke="#5e5e5e" stroke-width="1"/>
<rect x="615.54" y="775.30" width="56.79" height="8.4" fill="#ccd9eb" stroke="#5e6470" stroke-width="1"/>
<line x1="510.20" y1="779.50" x2="767.60" y2="779.50" stroke="#545454" stroke-width="1"/>
<polygon points="763.35,779.50 767.60,775.25 771.85,779.50 767.60,783.75" fill="#e2601a" stroke="#5e2a0c" stroke-width="0.9"/>
<rect x="510.20" y="794.30" width="104.42" height="8.4" fill="#bababa" stroke="#5e5e5e" stroke-width="1"/>
<rect x="614.62" y="794.30" width="48.09" height="8.4" fill="#ccd9eb" stroke="#5e6470" stroke-width="1"/>
<line x1="510.20" y1="798.50" x2="743.32" y2="798.50" stroke="#545454" stroke-width="1"/>
<polygon points="739.07,798.50 743.32,794.25 747.57,798.50 743.32,802.75" fill="#e2601a" stroke="#5e2a0c" stroke-width="0.9"/>
<rect x="510.20" y="812.30" width="90.23" height="8.4" fill="#bababa" stroke="#5e5e5e" stroke-width="1"/>
<rect x="600.43" y="812.30" width="44.43" height="8.4" fill="#ccd9eb" stroke="#5e6470" stroke-width="1"/>
<line x1="510.20" y1="816.50" x2="732.79" y2="816.50" stroke="#545454" stroke-width="1"/>
<polygon points="728.54,816.50 732.79,812.25 737.04,816.50 732.79,820.75" fill="#e2601a" stroke="#5e2a0c" stroke-width="0.9"/>
<rect x="510.20" y="831.30" width="77.86" height="8.4" fill="#bababa" stroke="#5e5e5e" stroke-width="1"/>
<rect x="588.06" y="831.30" width="54.04" height="8.4" fill="#ccd9eb" stroke="#5e6470" stroke-width="1"/>
<line x1="510.20" y1="835.50" x2="681.95" y2="835.50" stroke="#545454" stroke-width="1"/>
<polygon points="677.70,835.50 681.95,831.25 686.20,835.50 681.95,839.75" fill="#e2601a" stroke="#5e2a0c" stroke-width="0.9"/>
<rect x="510.20" y="849.30" width="73.28" height="8.4" fill="#bababa" stroke="#5e5e5e" stroke-width="1"/>
<rect x="583.48" y="849.30" width="46.26" height="8.4" fill="#ccd9eb" stroke="#5e6470" stroke-width="1"/>
<line x1="510.20" y1="853.50" x2="697.52" y2="853.50" stroke="#545454" stroke-width="1"/>
<polygon points="693.27,853.50 697.52,849.25 701.77,853.50 697.52,857.75" fill="#e2601a" stroke="#5e2a0c" stroke-width="0.9"/>
<polyline points="510.20,891.60 510.20,117.90 830.80,117.90 830.80,891.60" fill="none" stroke="#555" stroke-width="1.3"/>
<text x="839.50" y="135.80" font-size="13.4" textLength="52.56" lengthAdjust="spacingAndGlyphs" fill="#1e1e1e" stroke="#1e1e1e" stroke-width="0.3">Costa Rica</text>
<text x="839.50" y="154.35" font-size="13.4" textLength="40.03" lengthAdjust="spacingAndGlyphs" fill="#1e1e1e" stroke="#1e1e1e" stroke-width="0.3">Portugal</text>
<text x="839.50" y="172.89" font-size="13.4" textLength="33.45" lengthAdjust="spacingAndGlyphs" fill="#1e1e1e" stroke="#1e1e1e" stroke-width="0.3">Austria</text>
<text x="839.50" y="191.44" font-size="13.4" textLength="54.96" lengthAdjust="spacingAndGlyphs" fill="#1e1e1e" stroke="#1e1e1e" stroke-width="0.3">El Salvador</text>
<text x="839.50" y="209.98" font-size="13.4" textLength="34.04" lengthAdjust="spacingAndGlyphs" fill="#1e1e1e" stroke="#1e1e1e" stroke-width="0.3">Mexico</text>
<text x="839.50" y="228.53" font-size="13.4" textLength="26.87" lengthAdjust="spacingAndGlyphs" fill="#1e1e1e" stroke="#1e1e1e" stroke-width="0.3">Brazil</text>
<text x="839.50" y="247.07" font-size="13.4" textLength="44.20" lengthAdjust="spacingAndGlyphs" fill="#1e1e1e" stroke="#1e1e1e" stroke-width="0.3">Jamaica*</text>
<text x="839.50" y="265.62" font-size="13.4" textLength="35.23" lengthAdjust="spacingAndGlyphs" fill="#1e1e1e" stroke="#1e1e1e" stroke-width="0.3">Türkiye</text>
<text x="839.50" y="284.16" font-size="13.4" textLength="41.21" lengthAdjust="spacingAndGlyphs" fill="#1e1e1e" stroke="#1e1e1e" stroke-width="0.3">Morocco</text>
<text x="839.50" y="302.71" font-size="13.4" textLength="26.88" lengthAdjust="spacingAndGlyphs" fill="#1e1e1e" stroke="#1e1e1e" stroke-width="0.3">Qatar</text>
<text x="839.50" y="321.25" font-size="13.4" textLength="38.23" lengthAdjust="spacingAndGlyphs" fill="#1e1e1e" stroke="#1e1e1e" stroke-width="0.3">Georgia</text>
<text x="839.50" y="339.80" font-size="13.4" textLength="38.83" lengthAdjust="spacingAndGlyphs" fill="#1e1e1e" stroke="#1e1e1e" stroke-width="0.3">Belgium</text>
<text x="839.50" y="358.34" font-size="13.4" textLength="44.21" lengthAdjust="spacingAndGlyphs" fill="#1e1e1e" stroke="#1e1e1e" stroke-width="0.3">Panama*</text>
<text x="839.50" y="376.89" font-size="13.4" textLength="55.55" lengthAdjust="spacingAndGlyphs" fill="#1e1e1e" stroke="#1e1e1e" stroke-width="0.3">Switzerland</text>
<text x="839.50" y="395.43" font-size="13.4" textLength="32.86" lengthAdjust="spacingAndGlyphs" fill="#1e1e1e" stroke="#1e1e1e" stroke-width="0.3">Jordan</text>
<text x="839.50" y="413.98" font-size="13.4" textLength="48.99" lengthAdjust="spacingAndGlyphs" fill="#1e1e1e" stroke="#1e1e1e" stroke-width="0.3">Cambodia</text>
<text x="839.50" y="432.52" font-size="13.4" textLength="35.24" lengthAdjust="spacingAndGlyphs" fill="#1e1e1e" stroke="#1e1e1e" stroke-width="0.3">Greece</text>
<text x="839.50" y="451.07" font-size="13.4" textLength="95.57" lengthAdjust="spacingAndGlyphs" fill="#1e1e1e" stroke="#1e1e1e" stroke-width="0.3">Dominican Republic</text>
<text x="839.50" y="469.61" font-size="13.4" textLength="57.36" lengthAdjust="spacingAndGlyphs" fill="#1e1e1e" stroke="#1e1e1e" stroke-width="0.3">Montenegro</text>
<text x="839.50" y="488.16" font-size="13.4" textLength="27.49" lengthAdjust="spacingAndGlyphs" fill="#1e1e1e" stroke="#1e1e1e" stroke-width="0.3">Spain</text>
<text x="839.50" y="506.70" font-size="13.4" textLength="60.94" lengthAdjust="spacingAndGlyphs" fill="#1e1e1e" stroke="#1e1e1e" stroke-width="0.3">Saudi Arabia</text>
<text x="839.50" y="525.25" font-size="13.4" textLength="31.07" lengthAdjust="spacingAndGlyphs" fill="#1e1e1e" stroke="#1e1e1e" stroke-width="0.3">Serbia</text>
<text x="839.50" y="543.79" font-size="13.4" textLength="44.19" lengthAdjust="spacingAndGlyphs" fill="#1e1e1e" stroke="#1e1e1e" stroke-width="0.3">Germany</text>
<text x="839.50" y="562.34" font-size="13.4" textLength="80.65" lengthAdjust="spacingAndGlyphs" fill="#1e1e1e" stroke="#1e1e1e" stroke-width="0.3">United Kingdom*</text>
<text x="839.50" y="580.88" font-size="13.4" textLength="41.22" lengthAdjust="spacingAndGlyphs" fill="#1e1e1e" stroke="#1e1e1e" stroke-width="0.3">Slovenia</text>
<text x="839.50" y="599.43" font-size="13.4" textLength="33.45" lengthAdjust="spacingAndGlyphs" fill="#1e1e1e" stroke="#1e1e1e" stroke-width="0.3">France</text>
<text x="839.50" y="617.97" font-size="13.4" textLength="26.28" lengthAdjust="spacingAndGlyphs" fill="#1e1e1e" stroke="#1e1e1e" stroke-width="0.3">Malta</text>
<text x="839.50" y="636.52" font-size="13.4" textLength="22.70" lengthAdjust="spacingAndGlyphs" fill="#1e1e1e" stroke="#1e1e1e" stroke-width="0.3">Peru</text>
<text x="839.50" y="655.06" font-size="13.4" textLength="91.39" lengthAdjust="spacingAndGlyphs" fill="#1e1e1e" stroke="#1e1e1e" stroke-width="0.3">Brunei Darussalam</text>
<text x="839.50" y="673.61" font-size="13.4" textLength="29.28" lengthAdjust="spacingAndGlyphs" fill="#1e1e1e" stroke="#1e1e1e" stroke-width="0.3">Japan</text>
<text x="839.50" y="692.15" font-size="13.4" textLength="46.00" lengthAdjust="spacingAndGlyphs" fill="#1e1e1e" stroke="#1e1e1e" stroke-width="0.3">Paraguay</text>
<text x="839.50" y="710.70" font-size="13.4" textLength="37.04" lengthAdjust="spacingAndGlyphs" fill="#1e1e1e" stroke="#1e1e1e" stroke-width="0.3">Ireland*</text>
<text x="839.50" y="747.50" font-size="13.4" textLength="132.61" lengthAdjust="spacingAndGlyphs" fill="#1e1e1e" stroke="#1e1e1e" stroke-width="0.3">Ukrainian regions (18 of 27)</text>
<text x="839.50" y="766.13" font-size="13.4" textLength="85.42" lengthAdjust="spacingAndGlyphs" fill="#1e1e1e" stroke="#1e1e1e" stroke-width="0.3">Baku (Azerbaijan)</text>
<text x="839.50" y="784.76" font-size="13.4" textLength="70.30" lengthAdjust="spacingAndGlyphs" fill="#1e1e1e" stroke="#1e1e1e" stroke-width="0.3">Chinese Taipei</text>
<text x="839.50" y="803.39" font-size="13.4" textLength="70.48" lengthAdjust="spacingAndGlyphs" fill="#1e1e1e" stroke="#1e1e1e" stroke-width="0.3">Macao (China)</text>
<text x="839.50" y="822.02" font-size="13.4" textLength="96.18" lengthAdjust="spacingAndGlyphs" fill="#1e1e1e" stroke="#1e1e1e" stroke-width="0.3">Hong Kong (China)*</text>
<text x="839.50" y="840.65" font-size="13.4" textLength="35.85" lengthAdjust="spacingAndGlyphs" fill="#1e1e1e" stroke="#1e1e1e" stroke-width="0.3">Kosovo</text>
<text x="839.50" y="859.28" font-size="13.4" textLength="97.38" lengthAdjust="spacingAndGlyphs" fill="#1e1e1e" stroke="#1e1e1e" stroke-width="0.3">Palestinian Authority</text>
<text x="507.19" y="905.80" font-size="13.2" textLength="6.02" lengthAdjust="spacingAndGlyphs" fill="#1e1e1e" stroke="#1e1e1e" stroke-width="0.3">0</text>
<text x="552.99" y="905.80" font-size="13.2" textLength="6.02" lengthAdjust="spacingAndGlyphs" fill="#1e1e1e" stroke="#1e1e1e" stroke-width="0.3">1</text>
<text x="598.79" y="905.80" font-size="13.2" textLength="6.02" lengthAdjust="spacingAndGlyphs" fill="#1e1e1e" stroke="#1e1e1e" stroke-width="0.3">2</text>
<text x="644.59" y="905.80" font-size="13.2" textLength="6.02" lengthAdjust="spacingAndGlyphs" fill="#1e1e1e" stroke="#1e1e1e" stroke-width="0.3">3</text>
<text x="690.39" y="905.80" font-size="13.2" textLength="6.02" lengthAdjust="spacingAndGlyphs" fill="#1e1e1e" stroke="#1e1e1e" stroke-width="0.3">4</text>
<text x="736.19" y="905.80" font-size="13.2" textLength="6.02" lengthAdjust="spacingAndGlyphs" fill="#1e1e1e" stroke="#1e1e1e" stroke-width="0.3">5</text>
<text x="781.99" y="905.80" font-size="13.2" textLength="6.02" lengthAdjust="spacingAndGlyphs" fill="#1e1e1e" stroke="#1e1e1e" stroke-width="0.3">6</text>
<text x="827.79" y="905.80" font-size="13.2" textLength="6.02" lengthAdjust="spacingAndGlyphs" fill="#1e1e1e" stroke="#1e1e1e" stroke-width="0.3">7</text>
<text x="104.60" y="905.60" font-size="11.2" textLength="24.20" lengthAdjust="spacingAndGlyphs" fill="#1e1e1e" stroke="#1e1e1e" stroke-width="0.3">Hours</text>
<text x="838.80" y="905.60" font-size="11.2" textLength="24.20" lengthAdjust="spacingAndGlyphs" fill="#1e1e1e" stroke="#1e1e1e" stroke-width="0.3">Hours</text>
<rect x="17.3" y="304.8" width="454.4" height="23.7" fill="none" stroke="#1262d6" stroke-width="4.6"/>
<text x="13.60" y="934.60" font-size="15" textLength="374.00" lengthAdjust="spacingAndGlyphs" fill="#111" stroke="#111" stroke-width="0.4">Notes: Only countries and economies with available data are shown.</text>
<text x="14.00" y="955.40" font-size="15" textLength="963.50" lengthAdjust="spacingAndGlyphs" fill="#111" stroke="#111" stroke-width="0.4">Time spent in regular lessons at school per school day refers to the time spent in regular lessons per school week divided by five (with the assumption there are five days per</text>
<text x="13.60" y="976.80" font-size="15" textLength="75.50" lengthAdjust="spacingAndGlyphs" fill="#111" stroke="#111" stroke-width="0.4">school week).</text>
</svg>
</body></html>
